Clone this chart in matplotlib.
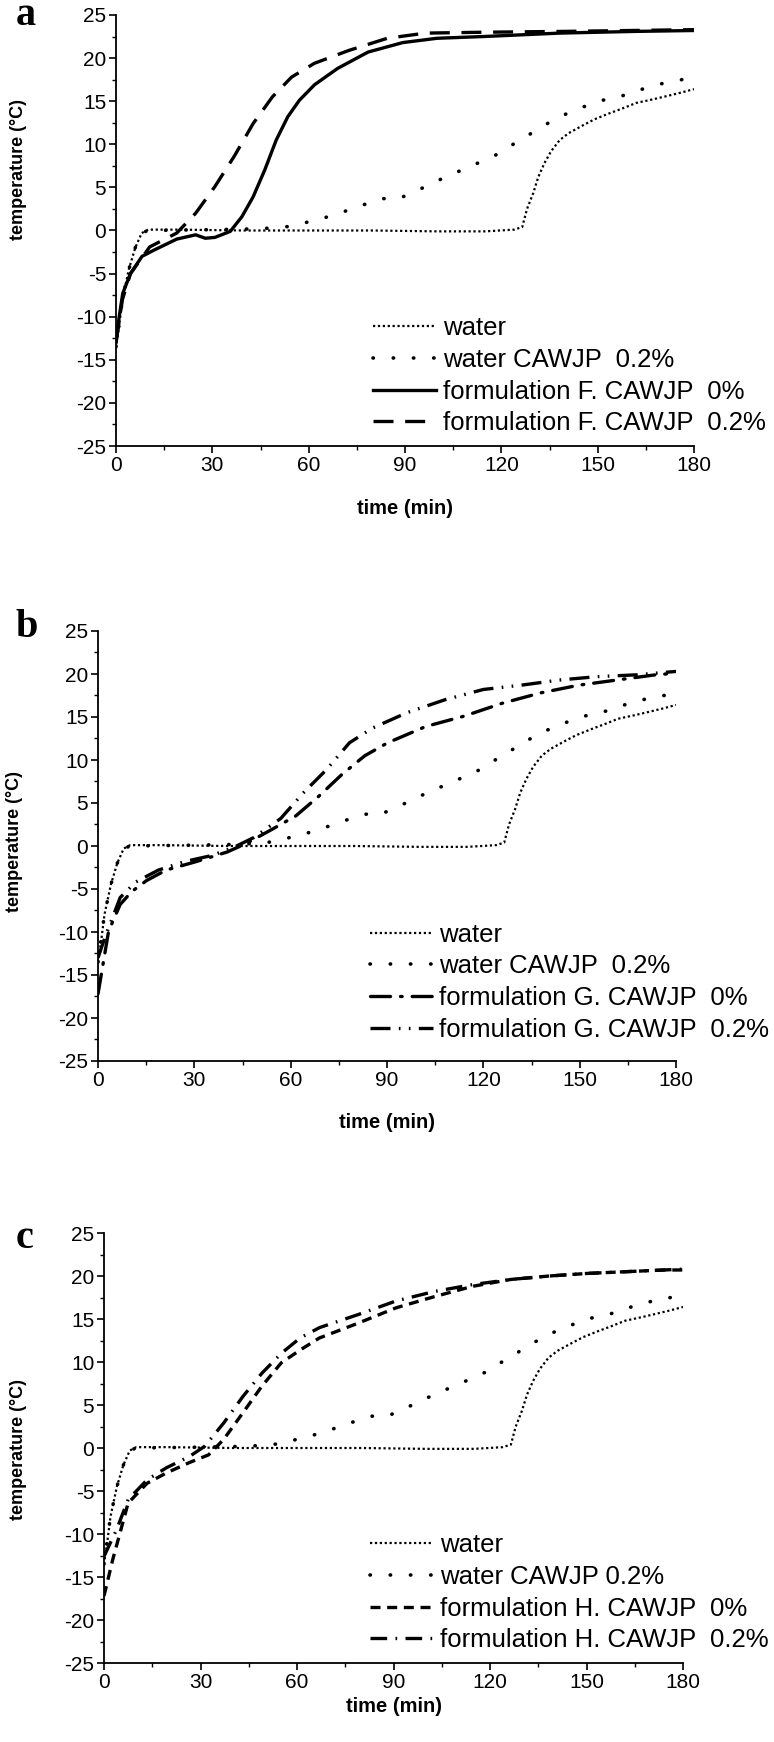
import matplotlib
matplotlib.use("Agg")
import matplotlib.pyplot as plt
from matplotlib.ticker import MultipleLocator

plt.rcParams['font.family'] = ['Liberation Sans', 'DejaVu Sans']
plt.rcParams['axes.unicode_minus'] = False

# water (same runs in all three panels)
water_t = [0, 1, 2, 4, 6, 8, 10, 20, 40, 60, 80, 100, 115, 124, 126.5, 128, 129.9, 131.5, 133.4, 135.5,
           138.2, 141, 145.4, 149, 153.7, 158, 162, 167, 171.6, 176, 180]
water_T = [-13.5, -11, -8, -4.5, -2, -0.3, 0.1, 0.1, 0.0, 0.0, 0.0, -0.1, -0.1, 0.1, 0.4, 2.5, 4.3, 6.2, 7.8, 9.2,
           10.5, 11.3, 12.2, 12.9, 13.6, 14.2, 14.8, 15.2, 15.6, 16.0, 16.4]

water_caw_t = [0, 2, 4, 6, 8, 10, 30, 45, 55, 61.8, 67.2, 72.6, 78, 83.3, 88.1, 92.9, 98.2, 103.6, 109,
               114.3, 119.1, 124.5, 129.9, 135.2, 140.6, 146, 151.4, 156.7, 162.1, 167.5, 172.8, 178]
water_caw_T = [-13.5, -8, -4.5, -2, -0.3, 0.0, 0.1, 0.2, 0.5, 1.2, 1.7, 2.4, 3.1, 3.7, 3.7, 4.5, 5.4, 6.4, 7.2,
               8.1, 8.9, 10.2, 11.4, 12.6, 13.6, 14.4, 15.1, 15.5, 16.2, 16.8, 17.3, 17.6]

# formulation F
f0_t = [0, 1, 2.1, 4.5, 8.1, 11.7, 18.9, 24.8, 27.8, 30.8, 35.6, 39.2, 42.7, 46.3, 49.9, 53.5, 57.1, 61.8,
        69, 78.5, 89.3, 100, 114.3, 138.2, 162, 180]
f0_T = [-13, -10, -7.3, -5, -3, -2.3, -1.0, -0.5, -0.9, -0.8, -0.1, 1.6, 3.9, 7.0, 10.5, 13.2, 15.1, 16.9,
        18.8, 20.7, 21.8, 22.3, 22.5, 22.9, 23.1, 23.2]
f2_t = [0, 2, 4.5, 10.5, 18.9, 24.8, 30.8, 36.8, 42.7, 48.7, 54.7, 61.8, 72.6, 84.5, 96.4, 114.3, 140, 180]
f2_T = [-13, -8, -5, -1.9, -0.3, 2.0, 5.1, 8.6, 12.4, 15.5, 17.8, 19.4, 20.9, 22.3, 22.9, 23.0, 23.1, 23.3]

# formulation G
g0_t = [0, 3.3, 6.9, 10.5, 15.2, 21.2, 30.7, 40.2, 46.2, 54.5, 61.6, 68.8, 75.9, 83.1, 90.2, 102.1, 114,
        125.9, 137.8, 149.7, 161.6, 173.5, 180]
g0_T = [-17.2, -9.9, -6.8, -5.3, -4.0, -2.8, -1.8, -0.7, 0.3, 2.0, 3.5, 5.8, 8.3, 10.5, 12, 13.9, 15.1,
        16.6, 17.8, 18.7, 19.3, 19.9, 20.1]
g2_t = [0, 2.1, 6.9, 11.7, 18.8, 27.1, 35.5, 42.6, 48.6, 56.9, 64, 71.2, 78.3, 85.4, 96.2, 108, 120, 131.8,
        143.7, 155.6, 167.6, 180]
g2_T = [-13, -10.7, -6, -4.2, -2.8, -1.8, -1.1, -0.1, 1.0, 3.2, 6.2, 8.9, 12, 13.7, 15.5, 17, 18.2, 18.7,
        19.3, 19.7, 19.9, 20.3]

# formulation H
h0_t = [0, 2.7, 7.5, 13.4, 19.4, 26.5, 32.5, 37.2, 43.2, 49.1, 55.1, 61, 67, 78.9, 90.8, 102.7, 114.6,
        126.5, 138.4, 150.3, 162.2, 174.1, 180]
h0_T = [-17.2, -13, -6.4, -4.1, -2.9, -1.7, -0.8, 1, 4.1, 7.2, 9.9, 11.4, 12.8, 14.5, 16.3, 17.6, 18.8,
        19.6, 20, 20.3, 20.5, 20.7, 20.7]
h2_t = [0, 3.9, 7.5, 13.4, 19.4, 26.5, 31.3, 37.2, 43.2, 49.1, 55.1, 61, 67, 78.9, 90.8, 102.7, 114.6,
        126.5, 138.4, 150.3, 162.2, 180]
h2_T = [-12.6, -9.5, -6, -3.7, -2.3, -1, 0.2, 2.9, 6, 8.7, 11, 12.8, 14, 15.5, 17.1, 18.2, 19, 19.6, 20,
        20.3, 20.5, 20.8]

W, H = 774, 1742
fig = plt.figure(figsize=(W / 100, H / 100), dpi=100)


def make_ax(left, top, right, bottom, ylab_x, ylab_y, xlab_y):
    ax = fig.add_axes([left / W, 1 - bottom / H, (right - left) / W, (bottom - top) / H])
    ax.set_xlim(0, 180)
    ax.set_ylim(-25, 25)
    ax.spines['top'].set_visible(False)
    ax.spines['right'].set_visible(False)
    for s in ('left', 'bottom'):
        ax.spines[s].set_linewidth(1.3)
    ax.xaxis.set_major_locator(MultipleLocator(30))
    ax.xaxis.set_minor_locator(MultipleLocator(15))
    ax.yaxis.set_major_locator(MultipleLocator(5))
    ax.yaxis.set_minor_locator(MultipleLocator(2.5))
    ax.tick_params(which='major', direction='out', length=5, width=1.2, labelsize=15, pad=2)
    ax.tick_params(which='minor', direction='out', length=3, width=1.0)
    ax.set_xlabel('time (min)', fontsize=14.5, fontweight='bold', va='center')
    ax.set_ylabel('temperature (°C)', fontsize=13, fontweight='bold', va='center')
    # label centres given in pixels
    ax.xaxis.set_label_coords(0.5, (bottom - xlab_y) / (bottom - top))
    ax.yaxis.set_label_coords((ylab_x - left) / (right - left), (bottom - ylab_y) / (bottom - top))
    return ax


def water_lines(ax, caw_label):
    ax.plot(water_t, water_T, color='black', lw=1.6, linestyle=(0, (1, 1.2)), label='water')
    ax.plot(water_caw_t, water_caw_T, color='black', lw=2.6, linestyle=(0, (0.1, 5.5)),
            dash_capstyle='round', label=caw_label)


def legend(ax, x0, y0):
    ax.legend(loc='lower left', bbox_to_anchor=(x0, y0), frameon=False, fontsize=18.5,
              handlelength=2.45, handletextpad=0.25, labelspacing=0.3, borderpad=0, borderaxespad=0)


# panel a
ax = make_ax(116, 15, 694, 446, 19, 169, 508)
water_lines(ax, 'water CAWJP  0.2%')
ax.plot(f0_t, f0_T, color='black', lw=2.4, label='formulation F. CAWJP  0%')
ax.plot(f2_t, f2_T, color='black', lw=2.4, linestyle=(0, (6, 3.5)), label='formulation F. CAWJP  0.2%')
legend(ax, 0.445, 0.025)
fig.text(16 / W, 1 - 25 / H, 'a', family='Liberation Serif', fontweight='bold', fontsize=29)

# panel b
ax = make_ax(98, 631, 676, 1061, 14, 841, 1122)
water_lines(ax, 'water CAWJP  0.2%')
ax.plot(g0_t, g0_T, color='black', lw=2.4, linestyle=(0, (6, 3, 0.5, 3)), dash_capstyle='round',
        label='formulation G. CAWJP  0%')
ax.plot(g2_t, g2_T, color='black', lw=2.4, linestyle=(0, (6, 2.5, 0.5, 2.5, 0.5, 2.5)),
        label='formulation G. CAWJP  0.2%')
legend(ax, 0.47, 0.045)
fig.text(16 / W, 1 - 637 / H, 'b', family='Liberation Serif', fontweight='bold', fontsize=29)

# panel c
ax = make_ax(104, 1233, 683, 1663, 19, 1449, 1706)
water_lines(ax, 'water CAWJP 0.2%')
ax.plot(h0_t, h0_T, color='black', lw=2.4, linestyle=(0, (3, 2)), label='formulation H. CAWJP  0%')
ax.plot(h2_t, h2_T, color='black', lw=2.4, linestyle=(0, (5, 2.5, 0.5, 2.5)),
        label='formulation H. CAWJP  0.2%')
legend(ax, 0.46, 0.025)
fig.text(16 / W, 1 - 1248 / H, 'c', family='Liberation Serif', fontweight='bold', fontsize=29)

fig.savefig('out.png', dpi=100)
